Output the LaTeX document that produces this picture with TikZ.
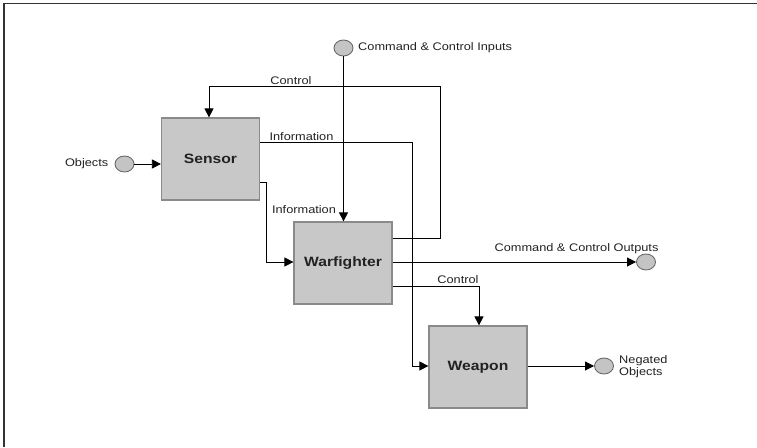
\documentclass[tikz,border=0pt]{standalone}
\usepackage{fontspec}
\setmainfont{Liberation Sans}[FakeStretch=1.16]
\usetikzlibrary{arrows.meta,shapes.geometric}
\definecolor{boxfill}{HTML}{C8C8C8}
\definecolor{boxline}{HTML}{8A8A8A}
\definecolor{circfill}{HTML}{C4C4C4}
\definecolor{circline}{HTML}{6A6A6A}
\definecolor{txt}{HTML}{222222}
\tikzset{
  block/.style={draw=boxline, line width=1.2pt, fill=boxfill, minimum width=98pt, minimum height=82pt, inner sep=0pt, text=txt, font=\bfseries\fontsize{13.5}{15}\selectfont},
  port/.style={ellipse, draw=circline, line width=0.9pt, fill=circfill, minimum width=19pt, minimum height=16pt, inner sep=0pt},
  lbl/.style={text=txt, inner sep=0pt, font=\fontsize{11}{12.5}\selectfont},
  flow/.style={draw=black, line width=0.8pt, -{Triangle[length=9pt,width=9pt]}},
  wire/.style={draw=black, line width=0.8pt}
}
\begin{document}
\begin{tikzpicture}[x=1pt,y=-1pt]
\useasboundingbox (0,0) rectangle (757,447);
\draw[line width=1.4pt, color=black!80] (4,447) -- (4,3.5) -- (757,3.5);

\node[block] (sensor) at (210.5,159) {Sensor};
\node[block] (warf) at (343,263) {Warfighter};
\node[block] (weapon) at (478,367) {Weapon};

\node[port] (cin) at (343.5,48) {};
\node[port] (cout) at (646,262) {};
\node[port] (obj) at (124.5,164) {};
\node[port] (neg) at (604,366) {};

\node[lbl, anchor=west] (lcin) at (358,48) {Command \& Control Inputs};
\node[lbl, anchor=east] (lobj) at (108.5,164) {Objects};
\node[lbl] (lctl1) at (291,80.5) {Control};
\node[lbl] (linf1) at (301.5,136.5) {Information};
\node[lbl] (linf2) at (304,210) {Information};
\node[lbl] (lcout) at (576.5,249) {Command \& Control Outputs};
\node[lbl] (lctl2) at (458,280) {Control};
\node[lbl, anchor=west, align=left, font=\fontsize{11}{12}\selectfont] (lneg) at (619,367) {Negated\\Objects};

% bend points
\coordinate (c1) at (440,238);
\coordinate (c2) at (440,86);
\coordinate (c3) at (209,86);
\coordinate (i1) at (412,142);
\coordinate (i2) at (412,366);
\coordinate (j1) at (266.5,182);
\coordinate (j2) at (266.5,262);
\coordinate (k1) at (479,286.5);

\draw[flow] (obj.east) -- (sensor.west |- obj.east);
\draw[flow] (cin.south) -- (cin.south |- warf.north);
\draw[flow] (warf.east |- c1) -- (c1) -- (c2) -- (c3) -- (c3 |- sensor.north);
\draw[flow] (sensor.east |- i1) -- (i1) -- (i2) -- (weapon.west |- i2);
\draw[flow] (sensor.east |- j1) -- (j1) -- (j2) -- (warf.west |- j2);
\draw[flow] (warf.east |- cout.west) -- (cout.west);
\draw[flow] (warf.east |- k1) -- (k1) -- (k1 |- weapon.north);
\draw[flow] (weapon.east |- neg.west) -- (neg.west);
\end{tikzpicture}
\end{document}
